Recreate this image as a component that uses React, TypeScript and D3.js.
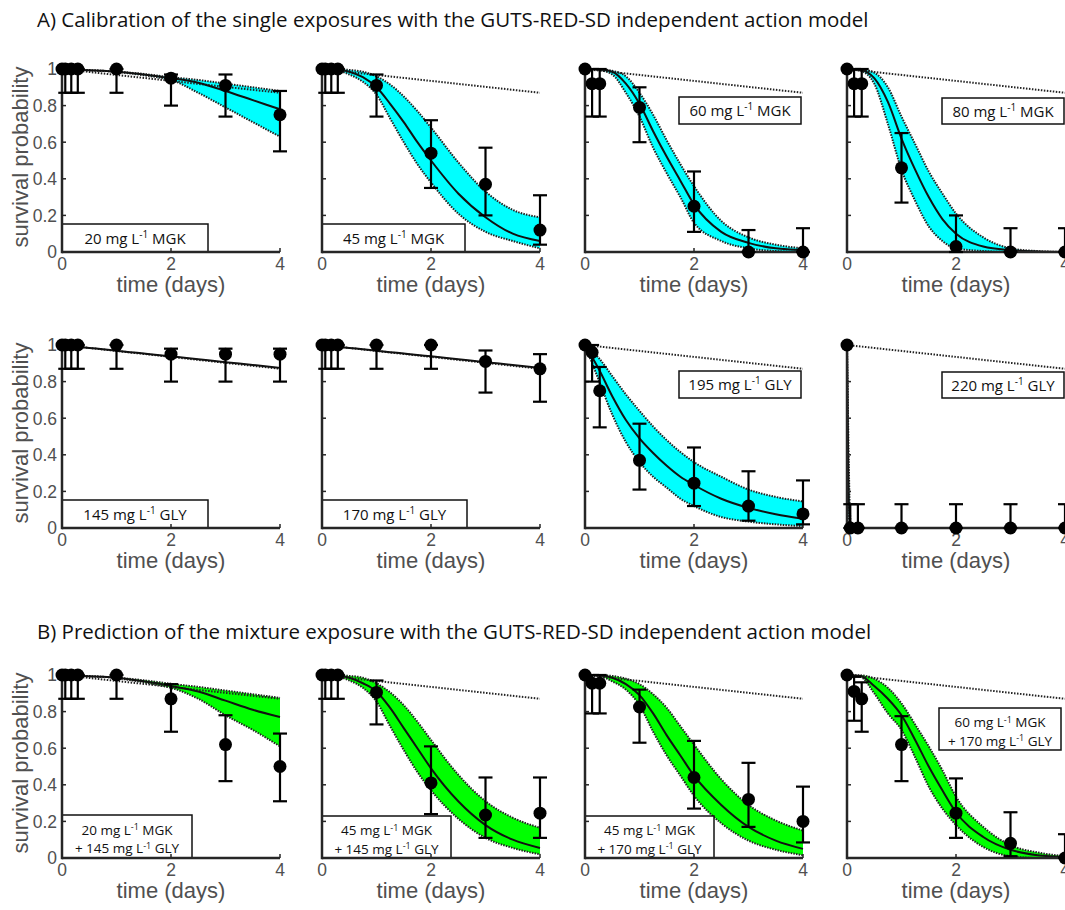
import React, { useEffect, useRef } from "react";
import * as d3 from "d3";

const W = 1065;
const H = 910;

// shared axes
const xTicks = [0, 2, 4];
const yTicks = [0, 0.2, 0.4, 0.6, 0.8, 1];
const yTickLabels = ["0", "0.2", "0.4", "0.6", "0.8", "1"];

// model output grid (days) and background mortality (dotted line)
const curveTimes = [0, 0.25, 0.5, 0.75, 1, 1.25, 1.5, 1.75, 2, 2.5, 3, 3.5, 4];
const bgTimes = [0, 4];
const bgSurvival = [1, 0.87];

// observation times (days)
const obsTimesA = [0, 0.06, 0.17, 0.29, 1, 2, 3, 4];
const obsTimesB = [0, 0.13, 0.27, 1, 2, 3, 4];
const obsTimes220 = [0, 0.06, 0.2, 1, 2, 3, 4];
const curveTimes220 = [0, 0.02, 0.05, 0.08, 4];

// --- A) single exposures ---
const obs20MGK = [1, 1, 1, 1, 1, 0.95, 0.91, 0.75];
const lo20MGK = [null, 0.87, 0.87, 0.87, 0.87, 0.8, 0.74, 0.55];
const hi20MGK = [null, 1, 1, 1, 1, 0.97, 0.97, 0.88];
const med20MGK = [1, 0.997, 0.993, 0.99, 0.985, 0.978, 0.97, 0.96, 0.95, 0.925, 0.88, 0.83, 0.78];
const up20MGK = [1, 0.997, 0.993, 0.99, 0.986, 0.98, 0.973, 0.964, 0.955, 0.94, 0.92, 0.9, 0.88];
const dn20MGK = [1, 0.997, 0.993, 0.99, 0.984, 0.976, 0.966, 0.955, 0.94, 0.87, 0.79, 0.71, 0.63];

const obs45MGK = [1, 1, 1, 1, 0.91, 0.54, 0.37, 0.12];
const lo45MGK = [null, 0.87, 0.87, 0.87, 0.74, 0.35, 0.2, 0.04];
const hi45MGK = [null, 1, 1, 1, 0.97, 0.72, 0.57, 0.31];
const med45MGK = [1, 0.998, 0.985, 0.955, 0.9, 0.81, 0.71, 0.6, 0.5, 0.32, 0.19, 0.1, 0.06];
const up45MGK = [1, 0.999, 0.995, 0.985, 0.96, 0.915, 0.85, 0.77, 0.68, 0.49, 0.33, 0.23, 0.19];
const dn45MGK = [1, 0.995, 0.97, 0.93, 0.86, 0.73, 0.6, 0.48, 0.38, 0.21, 0.11, 0.06, 0.02];

const obs60MGK = [1, 0.92, 0.92, 0.79, 0.25, 0, 0];
const lo60MGK = [null, 0.74, 0.74, 0.6, 0.11, 0, 0];
const hi60MGK = [null, 1, 1, 0.9, 0.44, 0.12, 0.13];
const med60MGK = [1, 0.998, 0.985, 0.92, 0.81, 0.66, 0.52, 0.39, 0.26, 0.11, 0.05, 0.02, 0.01];
const up60MGK = [1, 0.999, 0.99, 0.96, 0.87, 0.75, 0.61, 0.48, 0.36, 0.17, 0.08, 0.04, 0.02];
const dn60MGK = [1, 0.995, 0.97, 0.87, 0.74, 0.57, 0.43, 0.3, 0.16, 0.06, 0.02, 0.005, 0];

const obs80MGK = [1, 0.92, 0.92, 0.46, 0.03, 0, 0];
const lo80MGK = [null, 0.74, 0.74, 0.27, 0, 0, 0];
const hi80MGK = [null, 1, 1, 0.65, 0.2, 0.13, 0.13];
const med80MGK = [1, 0.995, 0.95, 0.82, 0.62, 0.45, 0.3, 0.18, 0.1, 0.03, 0.01, 0.003, 0];
const up80MGK = [1, 0.998, 0.98, 0.9, 0.74, 0.59, 0.44, 0.32, 0.21, 0.08, 0.02, 0.005, 0];
const dn80MGK = [1, 0.99, 0.92, 0.7, 0.45, 0.28, 0.14, 0.06, 0.02, 0.005, 0, 0, 0];

const obs145GLY = [1, 1, 1, 1, 1, 0.95, 0.95, 0.95];
const lo145GLY = [null, 0.87, 0.87, 0.87, 0.87, 0.8, 0.8, 0.8];
const hi145GLY = [null, 1, 1, 1, 1, 0.98, 0.98, 0.98];
const med145GLY = [1, 0.992, 0.984, 0.977, 0.969, 0.961, 0.953, 0.945, 0.938, 0.922, 0.906, 0.891, 0.875];

const obs170GLY = [1, 1, 1, 1, 1, 1, 0.91, 0.87];
const lo170GLY = [null, 0.87, 0.87, 0.87, 0.87, 0.87, 0.74, 0.69];
const hi170GLY = [null, 1, 1, 1, 1, 1, 0.97, 0.95];
const med170GLY = [1, 0.992, 0.984, 0.977, 0.969, 0.961, 0.953, 0.945, 0.938, 0.922, 0.906, 0.891, 0.875];

const obs195GLY = [1, 0.96, 0.75, 0.37, 0.245, 0.12, 0.077];
const lo195GLY = [null, 0.8, 0.55, 0.21, 0.12, 0.04, 0.02];
const hi195GLY = [null, 1, 0.88, 0.57, 0.44, 0.31, 0.26];
const med195GLY = [1, 0.87, 0.72, 0.59, 0.49, 0.41, 0.34, 0.28, 0.235, 0.16, 0.11, 0.075, 0.05];
const up195GLY = [1, 0.93, 0.83, 0.73, 0.64, 0.555, 0.48, 0.415, 0.36, 0.28, 0.21, 0.17, 0.145];
const dn195GLY = [1, 0.81, 0.62, 0.47, 0.36, 0.28, 0.22, 0.16, 0.12, 0.06, 0.035, 0.02, 0.01];

const obs220GLY = [1, 0, 0, 0, 0, 0, 0];
const lo220GLY = [null, 0, 0, 0, 0, 0, 0];
const hi220GLY = [null, 0.13, 0.13, 0.13, 0.13, 0.13, 0.13];
const med220GLY = [1, 0.4, 0, 0, 0];
const up220GLY = [1, 0.6, 0.12, 0, 0];
const dn220GLY = [1, 0.2, 0, 0, 0];

// --- B) mixtures ---
const obsMix20_145 = [1, 1, 1, 1, 1, 0.87, 0.62, 0.5];
const loMix20_145 = [null, 0.87, 0.87, 0.87, 0.87, 0.69, 0.42, 0.31];
const hiMix20_145 = [null, 1, 1, 1, 1, 0.95, 0.78, 0.68];
const medMix20_145 = [1, 0.997, 0.993, 0.99, 0.985, 0.976, 0.966, 0.955, 0.94, 0.91, 0.86, 0.81, 0.77];
const upMix20_145 = [1, 0.997, 0.993, 0.99, 0.986, 0.979, 0.971, 0.962, 0.952, 0.935, 0.915, 0.895, 0.875];
const dnMix20_145 = [1, 0.997, 0.993, 0.99, 0.983, 0.972, 0.96, 0.946, 0.93, 0.87, 0.78, 0.7, 0.61];

const obsMix45_145 = [1, 1, 1, 1, 0.905, 0.41, 0.235, 0.245];
const loMix45_145 = [null, 0.87, 0.87, 0.87, 0.73, 0.24, 0.11, 0.11];
const hiMix45_145 = [null, 1, 1, 1, 0.97, 0.61, 0.44, 0.44];
const medMix45_145 = [1, 0.998, 0.985, 0.955, 0.91, 0.82, 0.71, 0.6, 0.49, 0.31, 0.18, 0.1, 0.055];
const upMix45_145 = [1, 0.999, 0.995, 0.985, 0.955, 0.905, 0.835, 0.745, 0.645, 0.455, 0.31, 0.22, 0.165];
const dnMix45_145 = [1, 0.995, 0.97, 0.93, 0.855, 0.72, 0.59, 0.47, 0.37, 0.215, 0.11, 0.055, 0.02];

const obsMix45_170 = [1, 0.955, 0.955, 0.825, 0.44, 0.32, 0.2];
const loMix45_170 = [null, 0.79, 0.79, 0.63, 0.27, 0.17, 0.085];
const hiMix45_170 = [null, 1, 1, 0.92, 0.64, 0.52, 0.39];
const medMix45_170 = [1, 0.998, 0.985, 0.95, 0.89, 0.79, 0.67, 0.56, 0.45, 0.29, 0.17, 0.095, 0.05];
const upMix45_170 = [1, 0.999, 0.995, 0.98, 0.95, 0.895, 0.82, 0.72, 0.62, 0.43, 0.29, 0.205, 0.15];
const dnMix45_170 = [1, 0.995, 0.965, 0.92, 0.835, 0.69, 0.56, 0.45, 0.34, 0.19, 0.095, 0.045, 0.015];

const obsMix60_170 = [1, 0.91, 0.87, 0.62, 0.245, 0.08, 0];
const loMix60_170 = [null, 0.75, 0.69, 0.42, 0.11, 0.01, 0];
const hiMix60_170 = [null, 0.99, 0.96, 0.775, 0.435, 0.25, 0.13];
const medMix60_170 = [1, 0.995, 0.94, 0.87, 0.78, 0.645, 0.5, 0.37, 0.25, 0.115, 0.045, 0.015, 0.005];
const upMix60_170 = [1, 0.998, 0.98, 0.93, 0.845, 0.73, 0.61, 0.48, 0.335, 0.17, 0.07, 0.03, 0.01];
const dnMix60_170 = [1, 0.99, 0.9, 0.79, 0.7, 0.55, 0.39, 0.27, 0.18, 0.06, 0.01, 0, 0];

// label text: [before superscript, superscript, after]
const lbl = (conc: string, chem: string, prefix = "") => [`${prefix}${conc} mg L`, "-1", ` ${chem}`];

const titleA = "A) Calibration of the single exposures with the GUTS-RED-SD independent action model";
const titleB = "B) Prediction of the mixture exposure with the GUTS-RED-SD independent action model";

const CYAN = "#00ffff";
const GREEN = "#00ff00";

type Panel = {
  label: string[][];
  obsT: number[];
  obs: number[];
  lo: (number | null)[];
  hi: (number | null)[];
  curveT: number[];
  med: number[];
  up?: number[];
  dn?: number[];
  fill: string;
};

const panels: Panel[] = [
  { label: [lbl("20", "MGK")], obsT: obsTimesA, obs: obs20MGK, lo: lo20MGK, hi: hi20MGK, curveT: curveTimes, med: med20MGK, up: up20MGK, dn: dn20MGK, fill: CYAN },
  { label: [lbl("45", "MGK")], obsT: obsTimesA, obs: obs45MGK, lo: lo45MGK, hi: hi45MGK, curveT: curveTimes, med: med45MGK, up: up45MGK, dn: dn45MGK, fill: CYAN },
  { label: [lbl("60", "MGK")], obsT: obsTimesB, obs: obs60MGK, lo: lo60MGK, hi: hi60MGK, curveT: curveTimes, med: med60MGK, up: up60MGK, dn: dn60MGK, fill: CYAN },
  { label: [lbl("80", "MGK")], obsT: obsTimesB, obs: obs80MGK, lo: lo80MGK, hi: hi80MGK, curveT: curveTimes, med: med80MGK, up: up80MGK, dn: dn80MGK, fill: CYAN },
  { label: [lbl("145", "GLY")], obsT: obsTimesA, obs: obs145GLY, lo: lo145GLY, hi: hi145GLY, curveT: curveTimes, med: med145GLY, fill: CYAN },
  { label: [lbl("170", "GLY")], obsT: obsTimesA, obs: obs170GLY, lo: lo170GLY, hi: hi170GLY, curveT: curveTimes, med: med170GLY, fill: CYAN },
  { label: [lbl("195", "GLY")], obsT: obsTimesB, obs: obs195GLY, lo: lo195GLY, hi: hi195GLY, curveT: curveTimes, med: med195GLY, up: up195GLY, dn: dn195GLY, fill: CYAN },
  { label: [lbl("220", "GLY")], obsT: obsTimes220, obs: obs220GLY, lo: lo220GLY, hi: hi220GLY, curveT: curveTimes220, med: med220GLY, up: up220GLY, dn: dn220GLY, fill: CYAN },
  { label: [lbl("20", "MGK"), lbl("145", "GLY", "+ ")], obsT: obsTimesA, obs: obsMix20_145, lo: loMix20_145, hi: hiMix20_145, curveT: curveTimes, med: medMix20_145, up: upMix20_145, dn: dnMix20_145, fill: GREEN },
  { label: [lbl("45", "MGK"), lbl("145", "GLY", "+ ")], obsT: obsTimesA, obs: obsMix45_145, lo: loMix45_145, hi: hiMix45_145, curveT: curveTimes, med: medMix45_145, up: upMix45_145, dn: dnMix45_145, fill: GREEN },
  { label: [lbl("45", "MGK"), lbl("170", "GLY", "+ ")], obsT: obsTimesB, obs: obsMix45_170, lo: loMix45_170, hi: hiMix45_170, curveT: curveTimes, med: medMix45_170, up: upMix45_170, dn: dnMix45_170, fill: GREEN },
  { label: [lbl("60", "MGK"), lbl("170", "GLY", "+ ")], obsT: obsTimesB, obs: obsMix60_170, lo: loMix60_170, hi: hiMix60_170, curveT: curveTimes, med: medMix60_170, up: upMix60_170, dn: dnMix60_170, fill: GREEN },
];

// layout (pixels)
const colLeft = [62, 322, 585, 847];
const rowBottom = [252, 528, 858];
const plotW = 218;
const plotH = 183;
// label box: anchor bottom-left of axes, or top-right with offsets
const boxes = [
  { a: "bl", w: 146, h: 28 }, { a: "bl", w: 143, h: 28 }, { a: "tr", w: 122, h: 27, top: 28, right: 2 }, { a: "tr", w: 122, h: 26, top: 29, right: 1 },
  { a: "bl", w: 146, h: 28 }, { a: "bl", w: 145, h: 28 }, { a: "tr", w: 122, h: 27, top: 26, right: 2 }, { a: "tr", w: 122, h: 26, top: 27, right: 1 },
  { a: "bl", w: 130, h: 43 }, { a: "bl", w: 129, h: 42 }, { a: "bl", w: 129, h: 42 }, { a: "tr", w: 122, h: 42, top: 33, right: 4 },
];

const AXIS_FONT = "'Liberation Sans', Arial, sans-serif";
const TEXT_FONT = "'Open Sans', 'Noto Sans', sans-serif";
const GREY = "#505050";

function drawPanel(svg: d3.Selection<SVGSVGElement, unknown, null, undefined>, p: Panel, i: number) {
  const col = i % 4;
  const row = Math.floor(i / 4);
  const x0 = colLeft[col];
  const y0 = rowBottom[row];
  const x = d3.scaleLinear().domain([0, 4]).range([x0, x0 + plotW]);
  const y = d3.scaleLinear().domain([0, 1]).range([y0, y0 - plotH]);
  const g = svg.append("g");
  const idx = d3.range(p.curveT.length);

  const line = (arr: number[], times: number[]) =>
    d3.line<number>().x((k) => x(times[k])).y((k) => y(arr[k])).curve(d3.curveMonotoneX)(d3.range(times.length));

  if (p.up && p.dn) {
    const up = p.up, dn = p.dn;
    const area = d3
      .area<number>()
      .x((k) => x(p.curveT[k]))
      .y0((k) => y(dn[k]))
      .y1((k) => y(up[k]))
      .curve(d3.curveMonotoneX);
    g.append("path").attr("d", area(idx)).attr("fill", p.fill);
    [dn, up].forEach((arr) =>
      g.append("path").attr("d", line(arr, p.curveT)).attr("fill", "none")
        .attr("stroke", "#222").attr("stroke-width", 2).attr("stroke-dasharray", "1.5 1.2")
    );
  }

  // background hazard (dotted)
  g.append("path").attr("d", line(bgSurvival, bgTimes)).attr("fill", "none")
    .attr("stroke", "#222").attr("stroke-width", 2).attr("stroke-dasharray", "1.5 1.5");

  // median
  g.append("path").attr("d", line(p.med, p.curveT)).attr("fill", "none")
    .attr("stroke", "#111").attr("stroke-width", 2);

  // y tick labels (first column only)
  if (col === 0) {
    g.selectAll(".yl").data(yTicks).join("text")
      .attr("x", x0 - 5).attr("y", (d) => y(d)).attr("dy", "0.36em")
      .attr("text-anchor", "end").attr("font-family", AXIS_FONT).attr("font-size", 17.5).attr("fill", GREY)
      .text((_, k) => yTickLabels[k]);
    g.append("text")
      .attr("transform", `translate(28,${y0 - 95}) rotate(-90)`)
      .attr("text-anchor", "middle").attr("font-family", AXIS_FONT).attr("font-size", 22).attr("fill", GREY)
      .text("survival probability");
  }
  g.selectAll(".xl").data(xTicks).join("text")
    .attr("x", (d) => x(d)).attr("y", y0 + 18)
    .attr("text-anchor", "middle").attr("font-family", AXIS_FONT).attr("font-size", 17.5).attr("fill", GREY)
    .text((d) => String(d));
  g.append("text")
    .attr("x", x(2)).attr("y", y0 + 40)
    .attr("text-anchor", "middle").attr("font-family", AXIS_FONT).attr("font-size", 22).attr("fill", GREY)
    .text("time (days)");

  // label box
  const b = boxes[i] as any;
  const bx = b.a === "bl" ? x0 : x(4) - b.right - b.w;
  const by = b.a === "bl" ? y0 - b.h : y0 - plotH + b.top;
  g.append("rect").attr("x", bx).attr("y", by).attr("width", b.w).attr("height", b.h)
    .attr("fill", "#fff").attr("stroke", "#111").attr("stroke-width", 1.5);
  const nL = p.label.length;
  const fs = nL > 1 ? 13.5 : 15;
  const ss = nL > 1 ? 9 : 10;
  const sup = nL > 1 ? 4.5 : 6;
  p.label.forEach((parts, li) => {
    const base = nL > 1 ? by + b.h / 2 + (li === 0 ? -2 : 16.5) : by + b.h / 2 + 5.5;
    const t = g.append("text").attr("x", bx + b.w / 2).attr("y", base)
      .attr("text-anchor", "middle").attr("font-family", TEXT_FONT).attr("font-size", fs).attr("fill", "#111");
    t.append("tspan").text(parts[0]);
    t.append("tspan").attr("dy", -sup).attr("font-size", ss).text(parts[1]);
    t.append("tspan").attr("dy", sup).text(parts[2]);
  });

  // axes
  const axisG = g.append("g").attr("stroke", "#262626");
  axisG.append("line").attr("x1", x0).attr("x2", x(4)).attr("y1", y0).attr("y2", y0).attr("stroke-width", 2.5);
  axisG.append("line").attr("x1", x0).attr("x2", x0).attr("y1", y0 + 1.25).attr("y2", y(1)).attr("stroke-width", 2.5);
  axisG.selectAll(".yt").data(yTicks).join("line")
    .attr("x1", x0).attr("x2", x0 + 4).attr("y1", (d) => y(d)).attr("y2", (d) => y(d)).attr("stroke-width", 1.5);
  axisG.selectAll(".xt").data(xTicks).join("line")
    .attr("x1", (d) => x(d)).attr("x2", (d) => x(d)).attr("y1", y0).attr("y2", y0 - 4).attr("stroke-width", 1.5);

  // error bars
  const eb = g.append("g").attr("stroke", "#000").attr("stroke-width", 2.2);
  p.obsT.forEach((t, k) => {
    const lo = p.lo[k], hi = p.hi[k];
    if (lo == null || hi == null) return;
    const cx = x(t);
    eb.append("line").attr("x1", cx).attr("x2", cx).attr("y1", y(lo)).attr("y2", y(hi));
    eb.append("line").attr("x1", cx - 7).attr("x2", cx + 7).attr("y1", y(lo)).attr("y2", y(lo));
    eb.append("line").attr("x1", cx - 7).attr("x2", cx + 7).attr("y1", y(hi)).attr("y2", y(hi));
  });
  // observed points
  g.selectAll(".pt").data(p.obsT).join("circle")
    .attr("cx", (d) => x(d)).attr("cy", (_, k) => y(p.obs[k])).attr("r", 6.5).attr("fill", "#000");
}

export default function App() {
  const ref = useRef<SVGSVGElement | null>(null);

  useEffect(() => {
    if (!ref.current) return;
    const svg = d3.select(ref.current);
    svg.selectAll("*").remove();
    svg.append("rect").attr("width", W).attr("height", H).attr("fill", "#fff");
    svg.append("text").attr("x", 37).attr("y", 27).attr("font-family", TEXT_FONT).attr("font-size", 20.5).attr("fill", "#111").text(titleA);
    svg.append("text").attr("x", 37).attr("y", 639).attr("font-family", TEXT_FONT).attr("font-size", 20.5).attr("fill", "#111").text(titleB);
    panels.forEach((p, i) => drawPanel(svg, p, i));
  }, []);

  return <svg ref={ref} width={W} height={H} style={{ position: "absolute", left: 0, top: 0, display: "block" }} />;
}
